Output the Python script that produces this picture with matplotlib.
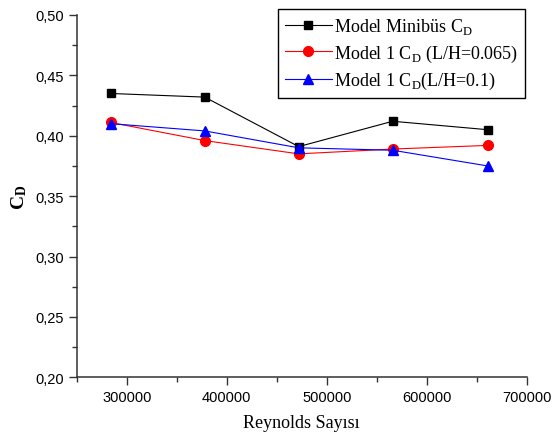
import matplotlib
matplotlib.use("agg")
import matplotlib.pyplot as plt
from matplotlib.ticker import MultipleLocator, FuncFormatter

# Reynolds numbers and drag coefficients
reynolds = [284000, 378000, 472000, 566000, 661000]
cd_minibus = [0.435, 0.432, 0.391, 0.412, 0.405]
cd_lh_0065 = [0.411, 0.396, 0.385, 0.389, 0.392]
cd_lh_01 = [0.410, 0.404, 0.390, 0.388, 0.375]

serif = "Liberation Serif"
sans = "Liberation Sans"
plt.rcParams["mathtext.fontset"] = "custom"
plt.rcParams["mathtext.rm"] = serif
plt.rcParams["mathtext.bf"] = serif + ":bold"

fig = plt.figure(figsize=(5.54, 4.39), dpi=100)
ax = fig.add_axes([0.1385, 0.1383, 0.8122, 0.8253])

ax.plot(reynolds, cd_minibus, color="black", lw=0.8, marker="s", ms=6,
        label=r"Model Minibüs C$_\mathregular{D}$")
ax.plot(reynolds, cd_lh_0065, color="red", lw=0.8, marker="o", ms=7,
        label=r"Model 1 C$_\mathregular{D}$ (L/H=0.065)")
ax.plot(reynolds, cd_lh_01, color="blue", lw=0.8, marker="^", ms=7.5,
        label=r"Model 1 C$_\mathregular{D}$(L/H=0.1)")

ax.set_xlim(250000, 700000)
ax.set_ylim(0.20, 0.50)
ax.xaxis.set_major_locator(MultipleLocator(100000))
ax.xaxis.set_minor_locator(MultipleLocator(50000))
ax.yaxis.set_major_locator(MultipleLocator(0.05))
ax.yaxis.set_minor_locator(MultipleLocator(0.025))
ax.yaxis.set_major_formatter(FuncFormatter(lambda v, p: f"{v:.2f}".replace(".", ",")))
ax.xaxis.set_major_formatter(FuncFormatter(lambda v, p: f"{v:.0f}"))

for s in ["top", "right"]:
    ax.spines[s].set_visible(False)
for s in ["left", "bottom"]:
    ax.spines[s].set_color("#333333")
    ax.spines[s].set_linewidth(1.1)

ax.tick_params(which="major", direction="out", length=6, width=1, colors="#333333", labelcolor="black")
ax.tick_params(which="minor", direction="out", length=3.5, width=1, colors="#333333")
for lab in ax.get_xticklabels() + ax.get_yticklabels():
    lab.set_fontfamily(sans)
    lab.set_fontsize(10.5)

ax.set_xlabel("Reynolds Sayısı", fontfamily=serif, fontsize=13, labelpad=7)
ax.set_ylabel(r"$\mathbf{C_D}$", fontfamily=serif, fontsize=14, fontweight="bold", labelpad=4)

leg = ax.legend(loc="upper right", bbox_to_anchor=(525 / 554, 1 - 10 / 439),
                bbox_transform=fig.transFigure, prop={"family": serif, "size": 13},
                fancybox=False, edgecolor="black", framealpha=1, borderaxespad=0,
                handlelength=2.6, handletextpad=0.1, labelspacing=0.35, borderpad=0.4)
leg.get_frame().set_linewidth(1)

fig.savefig("out.png", dpi=100)
